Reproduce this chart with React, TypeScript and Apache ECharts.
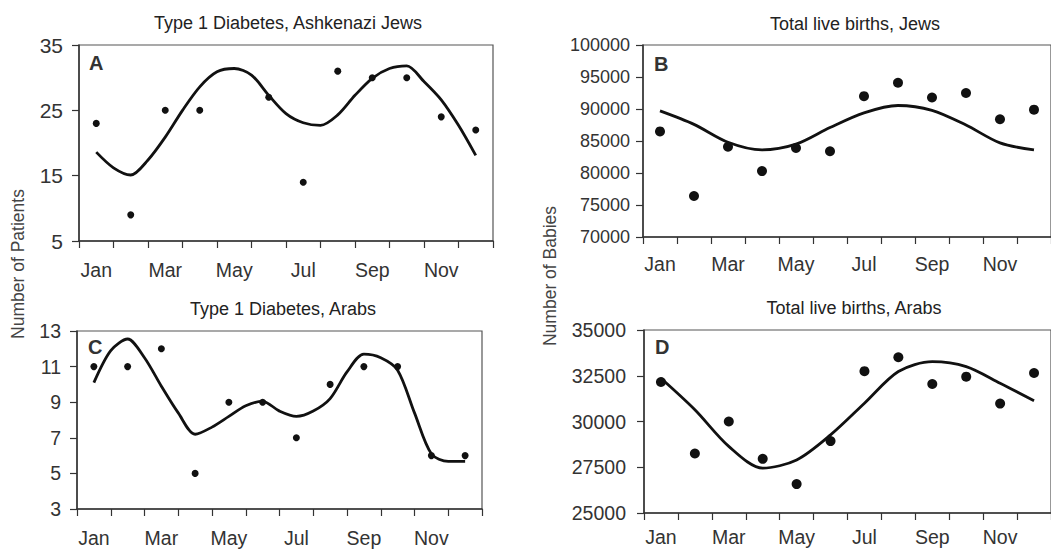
import React, { useEffect, useRef } from "react";
import * as echarts from "echarts";

const months = ["Jan", "Feb", "Mar", "Apr", "May", "Jun", "Jul", "Aug", "Sep", "Oct", "Nov", "Dec"];
const monthPos = [1, 2, 3, 4, 5, 6, 7, 8, 9, 10, 11, 12];
const halfMonthPos = [1, 1.5, 2, 2.5, 3, 3.5, 4, 4.5, 5, 5.5, 6, 6.5, 7, 7.5, 8, 8.5, 9, 9.5, 10, 10.5, 11, 11.5, 12];

// A: Type 1 Diabetes, Ashkenazi Jews
const patientsAshkenazi: (number | null)[] = [23, 9, 25, 25, null, 27, 14, 31, 30, 30, 24, 22];
const fitAshkenazi = [18.6, 16.2, 15.1, 17.4, 20.9, 25.0, 28.6, 30.9, 31.4, 30.4, 27.3, 24.5, 23.1, 22.7, 24.3, 27.3, 29.9, 31.4, 31.8, 29.4, 26.6, 22.7, 18.1];

// B: Total live births, Jews
const birthsJews = [86500, 76400, 84100, 80300, 83900, 83400, 92000, 94100, 91800, 92500, 88400, 89900];
const fitBirthsJews = [89700, 87600, 84800, 83600, 84500, 87100, 89400, 90550, 89800, 87500, 84700, 83600];

// C: Type 1 Diabetes, Arabs
const patientsArabs = [11, 11, 12, 5, 9, 9, 7, 10, 11, 11, 6, 6];
const fitArabs = [10.1, 11.9, 12.55, 11.5, 9.9, 8.4, 7.2, 7.6, 8.2, 8.8, 9.05, 8.5, 8.2, 8.5, 9.2, 10.7, 11.7, 11.5, 10.8, 8.4, 6.1, 5.67, 5.67];

// D: Total live births, Arabs
const birthsArabs = [32160, 28250, 30000, 27960, 26580, 28930, 32750, 33510, 32050, 32450, 30980, 32650];
const fitBirthsArabs = [32360, 30640, 28640, 27450, 27900, 29270, 31000, 32730, 33270, 33000, 32090, 31130];

const ticksA = [5, 15, 25, 35];
const ticksC = [3, 5, 7, 9, 11, 13];

const FONT = "'Liberation Sans', Arial, sans-serif";
const INK = "#111";
const AXIS = "#333";
const LABEL = "#333";

const pairs = (xs: number[], ys: number[]) => xs.map((x, i) => [x, ys[i]]);
const plain = (v: number) => String(v);

export default function App() {
  const ref = useRef<HTMLDivElement>(null);

  useEffect(() => {
    if (!ref.current) return;
    const chart = echarts.init(ref.current, undefined, { renderer: "svg" });

    const grids = [
      { left: 79, top: 45, width: 414, height: 196 },
      { left: 643, top: 45, width: 412, height: 192 },
      { left: 77, top: 331, width: 405, height: 178 },
      { left: 644, top: 330, width: 413, height: 183 },
    ].map((g) => ({ ...g, show: true, borderColor: "#555", borderWidth: 1.2, backgroundColor: "transparent" }));

    const catMargins = [19, 17, 19, 14];
    const catX = grids.map((_, i) => ({
      type: "category",
      gridIndex: i,
      data: months,
      boundaryGap: true,
      axisLine: { show: true, lineStyle: { color: AXIS, width: 1.5 } },
      axisTick: { show: true, interval: 0, length: 7, lineStyle: { color: AXIS, width: 1.2 } },
      axisLabel: { interval: 1, margin: catMargins[i], color: LABEL, fontSize: 19.5, fontFamily: FONT },
      splitLine: { show: false },
    }));
    const valX = grids.map((_, i) => ({
      type: "value",
      gridIndex: i,
      min: 0.5,
      max: 12.5,
      show: false,
    }));

    const yCommon = {
      type: "value",
      axisLine: { show: true, lineStyle: { color: AXIS, width: 1.5 } },
      axisTick: { show: true, length: 7, lineStyle: { color: AXIS, width: 1.2 } },
      splitLine: { show: false },
    };
    const yAxes = [
      {
        ...yCommon,
        gridIndex: 0,
        min: 5,
        max: 35,
        axisTick: { ...yCommon.axisTick, customValues: ticksA },
        axisLabel: { customValues: ticksA, formatter: plain, margin: 16, color: LABEL, fontSize: 21, fontFamily: FONT },
      },
      {
        ...yCommon,
        gridIndex: 1,
        min: 70000,
        max: 100000,
        interval: 5000,
        axisLabel: { formatter: plain, margin: 13, color: LABEL, fontSize: 18, fontFamily: FONT },
      },
      {
        ...yCommon,
        gridIndex: 2,
        min: 3,
        max: 13,
        axisTick: { ...yCommon.axisTick, customValues: ticksC },
        axisLabel: { customValues: ticksC, formatter: plain, margin: 16, color: LABEL, fontSize: 19.5, fontFamily: FONT },
      },
      {
        ...yCommon,
        gridIndex: 3,
        min: 25000,
        max: 35000,
        interval: 2500,
        axisLabel: { formatter: plain, margin: 18, color: LABEL, fontSize: 19.5, fontFamily: FONT },
      },
    ];

    const scatter = (i: number, data: (number | null)[], size: number) => ({
      type: "scatter",
      xAxisIndex: i,
      yAxisIndex: i,
      data: data.map((v) => (v === null ? "-" : v)),
      symbolSize: size,
      itemStyle: { color: INK, opacity: 1 },
      z: 3,
    });
    const line = (i: number, pts: number[][]) => ({
      type: "line",
      xAxisIndex: 4 + i,
      yAxisIndex: i,
      data: pts,
      smooth: 0.3,
      showSymbol: false,
      lineStyle: { color: INK, width: 2.8 },
      z: 2,
    });

    const titleText = (text: string, x: number, y: number) => ({
      type: "text",
      x,
      y,
      style: { text, fill: "#222", font: `18px ${FONT}`, textAlign: "center", textVerticalAlign: "middle" },
    });
    const letter = (text: string, x: number, y: number) => ({
      type: "text",
      x,
      y,
      style: { text, fill: "#333", font: `bold 20px ${FONT}`, textAlign: "left", textVerticalAlign: "top" },
    });
    const axisName = (text: string, x: number, y: number) => ({
      type: "text",
      x,
      y,
      rotation: Math.PI / 2,
      style: { text, fill: "#444", font: `17.5px ${FONT}`, textAlign: "center", textVerticalAlign: "middle" },
    });

    chart.setOption({
      animation: false,
      grid: grids,
      xAxis: [...catX, ...valX],
      yAxis: yAxes,
      series: [
        line(0, pairs(halfMonthPos, fitAshkenazi)),
        scatter(0, patientsAshkenazi, 7),
        line(1, pairs(monthPos, fitBirthsJews)),
        scatter(1, birthsJews, 10),
        line(2, pairs(halfMonthPos, fitArabs)),
        scatter(2, patientsArabs, 7),
        line(3, pairs(monthPos, fitBirthsArabs)),
        scatter(3, birthsArabs, 10),
      ],
      graphic: [
        titleText("Type 1 Diabetes, Ashkenazi Jews", 288, 23),
        titleText("Total live births, Jews", 855, 24),
        titleText("Type 1 Diabetes, Arabs", 283, 309),
        titleText("Total live births, Arabs", 854, 308),
        letter("A", 89, 53),
        letter("B", 654, 54),
        letter("C", 88, 337),
        letter("D", 655, 337),
        axisName("Number of Patients", 18, 264),
        axisName("Number of Babies", 550, 276),
      ],
    });

    return () => chart.dispose();
  }, []);

  return (
    <div
      ref={ref}
      style={{ position: "fixed", left: 0, top: 0, width: 1051, height: 549, background: "#fff", overflow: "hidden" }}
    />
  );
}
